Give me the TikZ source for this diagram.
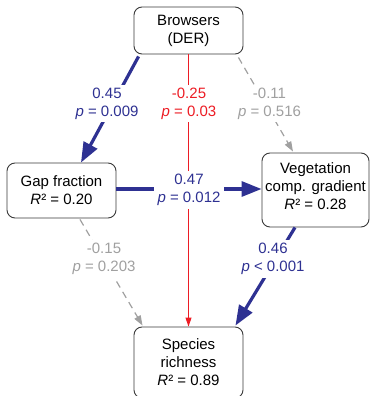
\documentclass[tikz,border=0pt]{standalone}
\usepackage{fontspec}
\setmainfont{Liberation Sans}
\usetikzlibrary{arrows.meta,calc}
\definecolor{sblue}{HTML}{2E3192}
\definecolor{sred}{HTML}{ED1C24}
\definecolor{sgray}{HTML}{A0A0A0}
\definecolor{sbox}{HTML}{3A3A3A}
\tikzset{
  box/.style={draw=sbox, line width=0.9pt, rounded corners=8pt, align=center,
    inner sep=0pt, font=\fontsize{15}{18}\selectfont, text=black},
  lab/.style={fill=white, align=center, inner xsep=4pt, inner ysep=3pt,
    font=\fontsize{15}{18}\selectfont},
  strong/.style={draw=sblue, line width=3.2pt, -{Triangle[length=20pt,width=15pt]}},
  sig/.style={draw=sred, line width=1pt, -{Triangle[length=9pt,width=6pt]}},
  ns/.style={draw=sgray, line width=1.2pt, dash pattern=on 7pt off 5pt,
    -{Triangle[length=10pt,width=7pt]}}
}
\begin{document}
\begin{tikzpicture}[x=1pt,y=-1pt]
\useasboundingbox (0,0) rectangle (370,396);
% boxes
\node[box, minimum width=109pt, minimum height=47pt] (B) at (188.5,30.5) {Browsers\\(DER)};
\node[box, minimum width=109pt, minimum height=55pt] (G) at (61.5,190.5) {Gap fraction\\\textit{R}² = 0.20};
\node[box, minimum width=107pt, minimum height=74pt] (V) at (315.5,190) {Vegetation\\comp. gradient\\\textit{R}² = 0.28\rule[-7pt]{0pt}{7pt}};
\node[box, minimum width=109pt, minimum height=71pt] (S) at (188.5,362.5) {Species\\richness\\\textit{R}² = 0.89};
% connectors
\draw[strong] ($(B.south west)+(5,2)$) -- ($(G.north)+(19.5,0)$);
\draw[sig] (B.south) -- (S.north);
\draw[ns] ($(B.south east)+(-5,3)$) -- ($(V.north)+(-22.5,-1)$);
\draw[strong] (G.east |- 0,189) -- (V.west |- 0,189);
\draw[ns] ($(G.south)+(18.5,1)$) -- ($(S.north west)+(9,-1)$);
\draw[strong] ($(V.south)+(-20.5,0)$) -- ($(S.north east)+(-8,-1)$);
% labels
\node[lab, text=sblue] (lBG) at (107,103.5) {0.45\\\textit{p} = 0.009};
\node[lab, text=sred] (lBS) at (189,103.5) {-0.25\\\textit{p} = 0.03};
\node[lab, text=sgray] (lBV) at (269.5,103.5) {-0.11\\\textit{p} = 0.516};
\node[lab, text=sblue] (lGV) at (189,190) {0.47\\\textit{p} = 0.012};
\node[lab, text=sgray] (lGS) at (104,259) {-0.15\\\textit{p} = 0.203};
\node[lab, text=sblue] (lVS) at (273,259) {0.46\\\textit{p} < 0.001};
\end{tikzpicture}
\end{document}
